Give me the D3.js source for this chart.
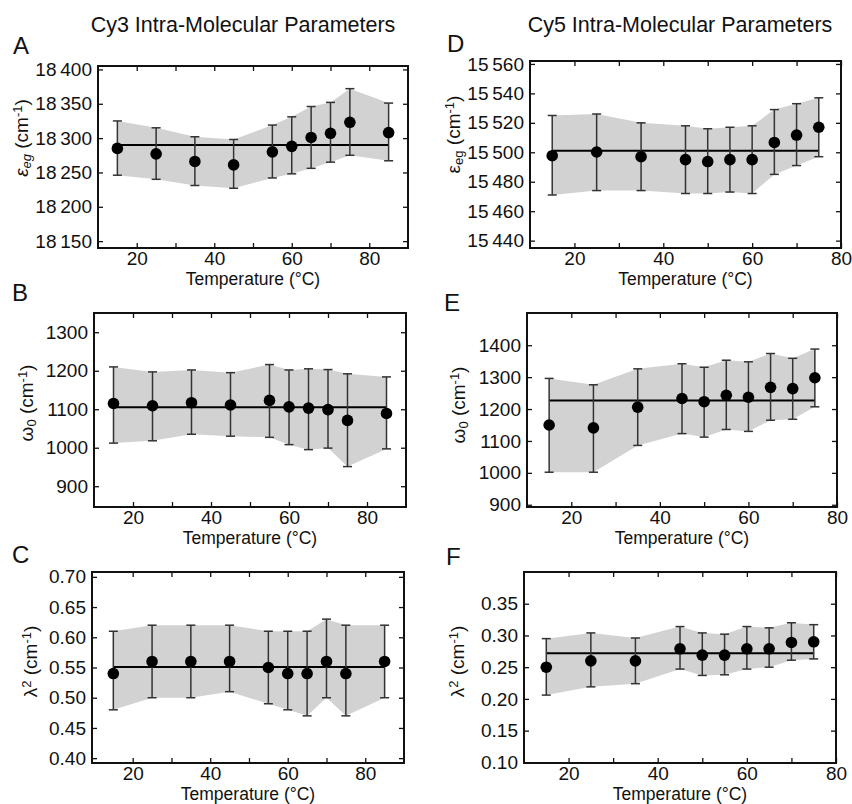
<!DOCTYPE html>
<html>
<head>
<meta charset="utf-8">
<script src="https://cdn.jsdelivr.net/npm/d3@7"></script>
<style>
  body { margin: 0; background: #fff; }
  svg { font-family: "Liberation Sans", Arial, sans-serif; }
  .tick text { font-size: 19px; fill: #111; }
</style>
</head>
<body>
<svg id="fig" width="852" height="804"></svg>
<script>
// temperatures (°C)
const tempCy3 = [15, 25, 35, 45, 55, 60, 65, 70, 75, 85];
const tempCy5 = [15, 25, 35, 45, 50, 55, 60, 65, 70, 75];

// Cy3 parameters
const epsCy3   = [18285, 18277, 18266, 18261, 18280, 18288, 18301, 18307, 18323, 18308];
const epsCy3Hi = [18325, 18315, 18302, 18298, 18319, 18331, 18346, 18352, 18372, 18351];
const epsCy3Lo = [18246, 18240, 18231, 18227, 18242, 18248, 18256, 18265, 18275, 18267];
const epsCy3Fit = 18290;

const omegaCy3   = [1115, 1109, 1117, 1111, 1123, 1106, 1103, 1099, 1071, 1089];
const omegaCy3Hi = [1210, 1197, 1202, 1195, 1216, 1202, 1205, 1203, 1192, 1184];
const omegaCy3Lo = [1012, 1018, 1035, 1030, 1027, 1008, 995, 999, 951, 997];
const omegaCy3Fit = 1105;

const lambdaCy3   = [0.54, 0.56, 0.56, 0.56, 0.55, 0.54, 0.54, 0.56, 0.54, 0.56];
const lambdaCy3Hi = [0.61, 0.62, 0.62, 0.62, 0.61, 0.61, 0.61, 0.63, 0.62, 0.62];
const lambdaCy3Lo = [0.48, 0.50, 0.50, 0.51, 0.49, 0.48, 0.47, 0.50, 0.47, 0.50];
const lambdaCy3Fit = 0.551;

// Cy5 parameters
const epsCy5   = [15497.7, 15500.2, 15497, 15495, 15493.7, 15495, 15495, 15506.7, 15511.7, 15517];
const epsCy5Hi = [15525, 15526, 15520, 15518, 15516, 15517, 15518, 15529, 15533, 15537];
const epsCy5Lo = [15471, 15474, 15474, 15472, 15472, 15473, 15472, 15485, 15491, 15497];
const epsCy5Fit = 15501;

const omegaCy5   = [1150, 1141, 1206, 1233, 1223, 1243, 1237, 1268, 1264, 1298];
const omegaCy5Hi = [1296, 1276, 1326, 1342, 1331, 1353, 1348, 1374, 1359, 1388];
const omegaCy5Lo = [1002, 1002, 1086, 1123, 1112, 1136, 1130, 1165, 1168, 1207];
const omegaCy5Fit = 1227;

const lambdaCy5   = [0.250, 0.260, 0.260, 0.279, 0.269, 0.269, 0.279, 0.279, 0.289, 0.290];
const lambdaCy5Hi = [0.295, 0.304, 0.296, 0.314, 0.304, 0.302, 0.314, 0.312, 0.320, 0.317];
const lambdaCy5Lo = [0.206, 0.219, 0.224, 0.247, 0.237, 0.238, 0.247, 0.250, 0.261, 0.263];
const lambdaCy5Fit = 0.272;

// tick values
const yTicksA = [18150, 18200, 18250, 18300, 18350, 18400];
const yTicksB = [900, 1000, 1100, 1200, 1300];
const yTicksC = [0.40, 0.45, 0.50, 0.55, 0.60, 0.65, 0.70];
const yTicksD = [15440, 15460, 15480, 15500, 15520, 15540, 15560];
const yTicksE = [900, 1000, 1100, 1200, 1300, 1400];
const yTicksF = [0.10, 0.15, 0.20, 0.25, 0.30, 0.35];
const xTicksMinor = [20, 30, 40, 50, 60, 70, 80];

const svg = d3.select('#fig');

const thousands = v => d3.format(',')(v).replace(',', '\u2009');
const twoDec = d3.format('.2f');

// panel boxes: left, top, right, bottom (px)
const panels = [
  {letter: 'A', box: [98, 66, 408, 248], xd: [10, 90], yd: [18140, 18405], ticks: yTicksA, fmt: thousands,
   t: tempCy3, v: epsCy3, hi: epsCy3Hi, lo: epsCy3Lo, fit: epsCy3Fit, label: 'epsItalic', lx: 28, lyOff: -19, ltx: 13, lty: 54},
  {letter: 'B', box: [94, 313, 406, 507], xd: [10, 90], yd: [846, 1350], ticks: yTicksB, fmt: d3.format('d'),
   t: tempCy3, v: omegaCy3, hi: omegaCy3Hi, lo: omegaCy3Lo, fit: omegaCy3Fit, label: 'omega', lx: 33, lyOff: -7, ltx: 12, lty: 301},
  {letter: 'C', box: [92, 572, 404, 763], xd: [9.5, 90], yd: [0.392, 0.708], ticks: yTicksC, fmt: twoDec,
   t: tempCy3, v: lambdaCy3, hi: lambdaCy3Hi, lo: lambdaCy3Lo, fit: lambdaCy3Fit, label: 'lambda', lx: 37, lyOff: -6, ltx: 12, lty: 563},
  {letter: 'D', box: [530, 61, 841, 248], xd: [10, 80], yd: [15435, 15562], ticks: yTicksD, fmt: thousands,
   t: tempCy5, v: epsCy5, hi: epsCy5Hi, lo: epsCy5Lo, fit: epsCy5Fit, label: 'eps', lx: 460, lyOff: -20, ltx: 447, lty: 52},
  {letter: 'E', box: [527, 313, 837, 507], xd: [10, 80], yd: [893, 1501], ticks: yTicksE, fmt: d3.format('d'),
   t: tempCy5, v: omegaCy5, hi: omegaCy5Hi, lo: omegaCy5Lo, fit: omegaCy5Fit, label: 'omega', lx: 465, lyOff: -5, ltx: 444, lty: 311},
  {letter: 'F', box: [524, 572, 836, 763], xd: [10, 80], yd: [0.099, 0.40], ticks: yTicksF, fmt: twoDec,
   t: tempCy5, v: lambdaCy5, hi: lambdaCy5Hi, lo: lambdaCy5Lo, fit: lambdaCy5Fit, label: 'lambda', lx: 464, lyOff: -6, ltx: 446, lty: 565}
];

// column titles
svg.append('text').attr('x', 243).attr('y', 32).attr('text-anchor', 'middle')
  .style('font-size', '21.5px').attr('fill', '#111').text('Cy3 Intra-Molecular Parameters');
svg.append('text').attr('x', 680).attr('y', 32).attr('text-anchor', 'middle')
  .style('font-size', '21.5px').attr('fill', '#111').text('Cy5 Intra-Molecular Parameters');

function yLabel(g, kind) {
  const t = g.append('text').attr('text-anchor', 'middle').style('font-size', '19px').attr('fill', '#111');
  if (kind === 'epsItalic' || kind === 'eps') {
    const it = kind === 'epsItalic' ? 'italic' : 'normal';
    t.append('tspan').style('font-style', it).text('ε');
    t.append('tspan').style('font-style', it).style('font-size', '13px').attr('baseline-shift', '-25%').text('eg');
  } else if (kind === 'omega') {
    t.append('tspan').text('ω');
    t.append('tspan').style('font-size', '13px').attr('baseline-shift', '-25%').text('0');
  } else {
    t.append('tspan').text('λ');
    t.append('tspan').style('font-size', '13px').attr('baseline-shift', '45%').text('2');
  }
  t.append('tspan').text(' (cm');
  t.append('tspan').style('font-size', '13px').attr('baseline-shift', '45%').text('-1');
  t.append('tspan').text(')');
}

panels.forEach(p => {
  const [x0, y0, x1, y1] = p.box;
  const x = d3.scaleLinear().domain(p.xd).range([x0, x1]);
  const y = d3.scaleLinear().domain(p.yd).range([y1, y0]);
  const g = svg.append('g');
  const rows = p.t.map((t, i) => ({t: t, v: p.v[i], hi: p.hi[i], lo: p.lo[i]}));

  // shaded uncertainty band
  const band = d3.area().x(d => x(d.t)).y0(d => y(d.lo)).y1(d => y(d.hi));
  g.append('path').datum(rows).attr('d', band).attr('fill', '#d2d2d2');

  // fit line
  g.append('line')
    .attr('x1', x(p.t[0])).attr('x2', x(p.t[p.t.length - 1]))
    .attr('y1', y(p.fit)).attr('y2', y(p.fit))
    .attr('stroke', '#000').attr('stroke-width', 2);

  // error bars
  const eb = g.append('g').attr('stroke', '#333').attr('stroke-width', 1.5);
  eb.selectAll('.stem').data(rows).join('line')
    .attr('x1', d => x(d.t)).attr('x2', d => x(d.t))
    .attr('y1', d => y(d.lo)).attr('y2', d => y(d.hi));
  eb.selectAll('.capHi').data(rows).join('line')
    .attr('x1', d => x(d.t) - 4.5).attr('x2', d => x(d.t) + 4.5)
    .attr('y1', d => y(d.hi)).attr('y2', d => y(d.hi));
  eb.selectAll('.capLo').data(rows).join('line')
    .attr('x1', d => x(d.t) - 4.5).attr('x2', d => x(d.t) + 4.5)
    .attr('y1', d => y(d.lo)).attr('y2', d => y(d.lo));

  // points
  g.selectAll('circle').data(rows).join('circle')
    .attr('cx', d => x(d.t)).attr('cy', d => y(d.v)).attr('r', 5.8).attr('fill', '#000');

  // axes, ticks pointing inward
  const xb = g.append('g').attr('transform', `translate(0,${y1})`)
    .call(d3.axisBottom(x).tickValues(xTicksMinor).tickSize(-5).tickPadding(3.5)
      .tickFormat(d => d % 20 === 0 ? d : ''));
  const xt = g.append('g').attr('transform', `translate(0,${y0})`)
    .call(d3.axisTop(x).tickValues(xTicksMinor).tickSize(-5).tickFormat(''));
  const yl = g.append('g').attr('transform', `translate(${x0},0)`)
    .call(d3.axisLeft(y).tickValues(p.ticks).tickSize(-5).tickPadding(6).tickFormat(p.fmt));
  const yr = g.append('g').attr('transform', `translate(${x1},0)`)
    .call(d3.axisRight(y).tickValues(p.ticks).tickSize(-5).tickFormat(''));
  [xb, xt, yl, yr].forEach(a => {
    a.select('.domain').remove();
    a.selectAll('.tick line').attr('stroke', '#111').attr('stroke-width', 1.3);
  });

  // frame
  g.append('rect').attr('x', x0).attr('y', y0).attr('width', x1 - x0).attr('height', y1 - y0)
    .attr('fill', 'none').attr('stroke', '#111').attr('stroke-width', 2);

  // x title
  g.append('text').attr('x', (x0 + x1) / 2).attr('y', y1 + 37).attr('text-anchor', 'middle')
    .style('font-size', '17.5px').attr('fill', '#111').text('Temperature (°C)');

  // y title
  const yg = g.append('g').attr('transform', `translate(${p.lx},${(y0 + y1) / 2 + p.lyOff}) rotate(-90)`);
  yLabel(yg, p.label);

  // panel letter
  g.append('text').attr('x', p.ltx).attr('y', p.lty)
    .style('font-size', '24px').attr('fill', '#111').text(p.letter);
});
</script>
</body>
</html>
